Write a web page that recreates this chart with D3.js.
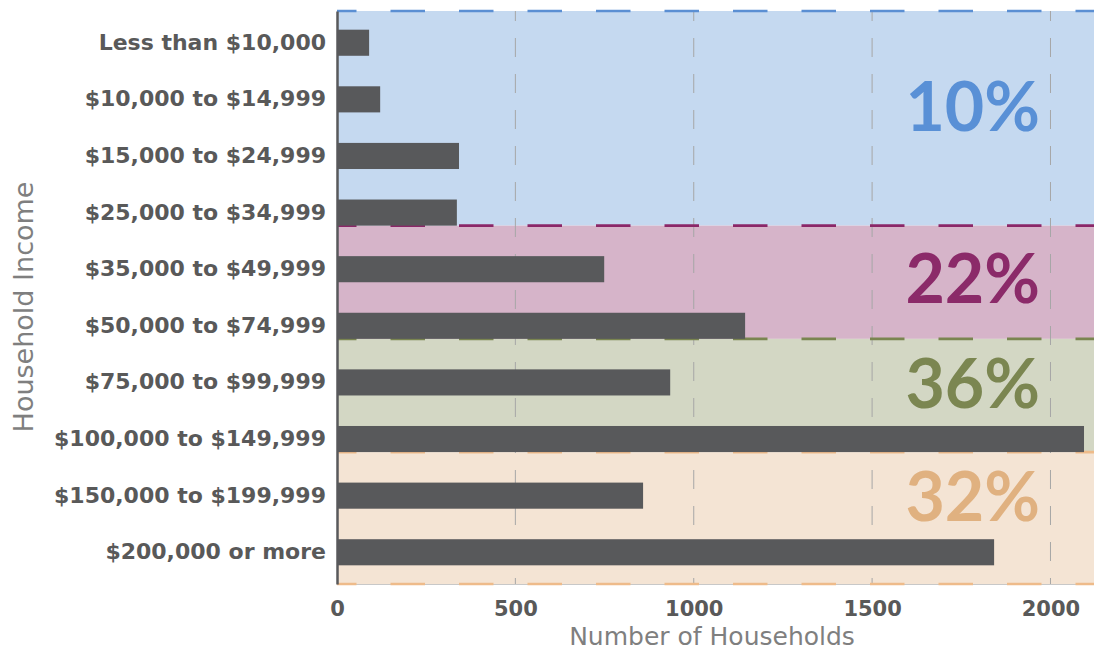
<!DOCTYPE html>
<html>
<head>
<meta charset="utf-8">
<script src="https://cdn.jsdelivr.net/npm/d3@7"></script>
<style>
  html, body { margin: 0; padding: 0; background: #fff; }
  svg { display: block; }
</style>
</head>
<body>
<div id="chart"></div>
<script>
// data kategori pendapatan
const categories = [
    'Less than $10,000',
    '$10,000 to $14,999',
    '$15,000 to $24,999',
    '$25,000 to $34,999',
    '$35,000 to $49,999',
    '$50,000 to $74,999',
    '$75,000 to $99,999',
    '$100,000 to $149,999',
    '$150,000 to $199,999',
    '$200,000 or more'
];
const households = [90, 121, 342, 336, 749, 1144, 934, 2094, 858, 1842];
const xTicks = [0, 500, 1000, 1500, 2000];

// grup warna: indeks kategori terakhir tiap grup
const groupEnds = [3, 5, 7, 9];
const groupFill = ['#c5d9f0', '#d6b4c9', '#d3d7c4', '#f4e4d4'];
const groupInk = ['#5990d6', '#8b2a69', '#7b8651', '#e0b180'];
const groupLine = ['#5b8fd3', '#8b2768', '#7a8550', '#eebb8a'];

// label persen ditempel ke baris kategori
const labelRows = [1, 4, 6, 8];
const labelDy = [32, 34, 26, 25];

document.addEventListener('DOMContentLoaded', function() {
    const width = 1094, height = 654;
    const left = 337, right = 1094, top = 11, bottom = 584;

    const svg = d3.select('#chart')
        .append('svg')
        .attr('width', width)
        .attr('height', height);

    const x = d3.scaleLinear()
        .domain([0, 2122])
        .range([left, right]);

    const y = d3.scaleBand()
        .domain(categories)
        .range([top, bottom])
        .paddingInner(0.539)
        .paddingOuter(0.33);

    const total = d3.sum(households);

    // hitung batas tiap grup
    const groups = groupEnds.map((end, i) => {
        const start = i === 0 ? 0 : groupEnds[i - 1] + 1;
        const y0 = i === 0 ? top : y(categories[groupEnds[i - 1]]) + y.bandwidth();
        const y1 = i === groupEnds.length - 1 ? bottom : y(categories[end]) + y.bandwidth();
        const share = d3.sum(households.slice(start, end + 1)) / total;
        return { i, y0, y1, pct: Math.round(share * 100) + '%' };
    });

    // latar belakang grup
    svg.selectAll('.band')
        .data(groups)
        .enter()
        .append('rect')
        .attr('class', 'band')
        .attr('x', left)
        .attr('y', d => d.y0)
        .attr('width', right - left)
        .attr('height', d => d.y1 - d.y0)
        .attr('fill', d => groupFill[d.i]);

    // garis grid vertikal
    svg.selectAll('.grid')
        .data(xTicks.slice(1))
        .enter()
        .append('line')
        .attr('class', 'grid')
        .attr('x1', d => x(d)).attr('x2', d => x(d))
        .attr('y1', top).attr('y2', bottom)
        .attr('stroke', '#a6a6a6')
        .attr('stroke-width', 1)
        .attr('stroke-dasharray', '19,17')
        .attr('stroke-dashoffset', 9);

    // sumbu x (garis dasar abu-abu)
    const xAxis = svg.append('g')
        .attr('transform', `translate(0,${bottom})`)
        .call(d3.axisBottom(x).tickValues(xTicks).tickFormat(d3.format('d')).tickSize(0).tickPadding(17));
    xAxis.select('.domain').attr('stroke', '#c8c8c8').attr('stroke-width', 1);
    xAxis.selectAll('text')
        .attr('fill', '#595959')
        .style('font-family', '"DejaVu Sans", sans-serif')
        .style('font-weight', 'bold')
        .style('font-size', '21px');

    // garis putus-putus di atas tiap grup + bawah grup terakhir
    const edges = groups.map(g => ({ y: g.y0, c: groupLine[g.i] }));
    edges.push({ y: bottom, c: groupLine[groupLine.length - 1] });
    svg.selectAll('.edge')
        .data(edges)
        .enter()
        .append('line')
        .attr('class', 'edge')
        .attr('x1', left).attr('x2', right)
        .attr('y1', d => d.y).attr('y2', d => d.y)
        .attr('stroke', d => d.c)
        .attr('stroke-width', 2.6)
        .attr('stroke-dasharray', '34.5,34')
        .attr('stroke-dashoffset', 15);

    // batang
    svg.selectAll('.bar')
        .data(households)
        .enter()
        .append('rect')
        .attr('class', 'bar')
        .attr('x', x(0))
        .attr('y', (d, i) => y(categories[i]))
        .attr('width', d => x(d) - x(0))
        .attr('height', y.bandwidth())
        .attr('fill', '#58595b');

    // sumbu y
    const yAxis = svg.append('g')
        .attr('transform', `translate(${left},0)`)
        .call(d3.axisLeft(y).tickSize(0).tickPadding(11));
    yAxis.select('.domain').attr('stroke', '#58595b').attr('stroke-width', 2.5);
    yAxis.selectAll('text')
        .attr('fill', '#595959')
        .style('font-family', '"DejaVu Sans", sans-serif')
        .style('font-weight', 'bold')
        .style('font-size', '22px');

    // label persen besar
    svg.selectAll('.pct')
        .data(groups)
        .enter()
        .append('text')
        .attr('class', 'pct')
        .attr('x', 1040)
        .attr('y', d => y(categories[labelRows[d.i]]) + y.bandwidth() / 2 + labelDy[d.i])
        .attr('text-anchor', 'end')
        .attr('fill', d => groupInk[d.i])
        .style('font-family', 'Lato, sans-serif')
        .style('font-weight', 'bold')
        .style('font-size', '68px')
        .text(d => d.pct);

    // judul sumbu
    svg.append('text')
        .attr('x', 712)
        .attr('y', 645)
        .attr('text-anchor', 'middle')
        .attr('fill', '#7f7f7f')
        .style('font-family', '"DejaVu Sans", sans-serif')
        .style('font-size', '25px')
        .text('Number of Households');

    svg.append('text')
        .attr('transform', 'translate(33,307) rotate(-90)')
        .attr('text-anchor', 'middle')
        .attr('fill', '#7f7f7f')
        .style('font-family', '"DejaVu Sans", sans-serif')
        .style('font-size', '27px')
        .text('Household Income');
});
</script>
</body>
</html>
